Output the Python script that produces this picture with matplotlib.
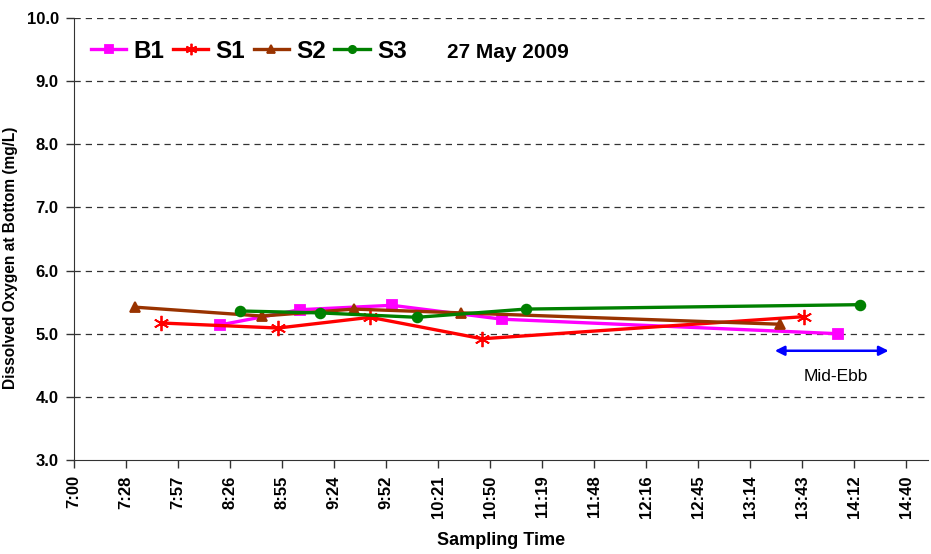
import numpy as np
import matplotlib.pyplot as plt
import matplotlib as mpl

#==========================================================
# DATA (sampling times as h:mm, DO in mg/L)
#==========================================================
b1_time = ["8:21", "9:05", "9:56", "10:57", "14:03"]
b1_do = [5.14, 5.38, 5.45, 5.23, 5.00]

s1_time = ["7:48", "8:53", "9:44", "10:46", "13:44"]
s1_do = [5.17, 5.09, 5.26, 4.92, 5.27]

s2_time = ["7:34", "8:44", "9:35", "10:34", "13:31"]
s2_do = [5.42, 5.28, 5.39, 5.33, 5.15]

s3_time = ["8:32", "9:16", "10:10", "11:10", "14:15"]
s3_do = [5.36, 5.33, 5.26, 5.39, 5.46]

tick_labels = ["7:00", "7:28", "7:57", "8:26", "8:55", "9:24", "9:52", "10:21",
               "10:50", "11:19", "11:48", "12:16", "12:45", "13:14", "13:43",
               "14:12", "14:40"]
tick_step = 28.8          # minutes (0.02 day)
x_start = 7 * 60
x_end = 7 * 60 + 472.8

ebb_start, ebb_end = "13:28", "14:31"
ebb_level = 4.73
ebb_text_x, ebb_text_y = "14:02", 4.33


def to_min(t):
  h, m = t.split(":")
  return int(h) * 60 + int(m)


#==========================================================
# PLOT
#==========================================================
mpl.rcParams['font.family'] = ['Liberation Sans', 'DejaVu Sans']
mpl.rcParams['font.weight'] = 'bold'

fig = plt.figure(figsize=(9.31, 5.54), dpi=100)
ax = fig.add_axes([74/931, 94/554, (928-74)/931, (460-18)/554])

series = [("B1", b1_time, b1_do, '#FF00FF', 's', 7),
          ("S1", s1_time, s1_do, '#FF0000', (6, 2, 0), 11),
          ("S2", s2_time, s2_do, '#993300', '^', 7),
          ("S3", s3_time, s3_do, '#008000', 'o', 7)]

for name, tt, vals, col, mk, ms in series:
  ax.plot([to_min(t) for t in tt], vals, '-', color=col, marker=mk, ms=ms,
          mec=col, mfc=col, mew=1.3, lw=2.4, label=name)

# grid
for yv in range(4, 11):
  ax.axhline(yv, color='#333333', ls=(0, (5, 4)), lw=0.9, zorder=0)

ax.set_xlim(x_start, x_end)
ax.set_ylim(3.0, 10.0)
ticks = [x_start + i * tick_step for i in range(len(tick_labels))]
ax.set_xticks(ticks)
ax.set_xticklabels(tick_labels, rotation=90, fontsize=12, fontweight='bold')
ax.set_yticks(np.arange(3, 10.5, 1.0))
ax.set_yticklabels(["%.1f" % v for v in np.arange(3, 10.5, 1.0)], fontsize=12, fontweight='bold')
ax.tick_params(direction='out', length=6, width=1, color='#333333', pad=5)

for s in ['top', 'right']:
  ax.spines[s].set_visible(False)
for s in ['left', 'bottom']:
  ax.spines[s].set_color('#333333')

ax.set_xlabel("Sampling Time", fontsize=13, fontweight='bold', labelpad=10)
ax.set_ylabel("Dissolved Oxygen at Bottom (mg/L)", fontsize=11.2, fontweight='bold')
ax.yaxis.set_label_coords(-0.0656, 0.458)

# legend
leg = ax.legend(loc='center left', bbox_to_anchor=(0.0, 0.925), ncol=4, frameon=False,
                fontsize=17.5, handlelength=1.45, handletextpad=0.3, columnspacing=0.35,
                markerscale=0.75, borderpad=0.2)
for t in leg.get_texts():
  t.set_fontweight('bold')

fig.text(447/931, 1 - 53/554, "27 May 2009", fontsize=15,
         fontweight='bold', va='center', ha='left')

# mid-ebb arrow
ax.annotate("", xy=(to_min(ebb_end), ebb_level), xytext=(to_min(ebb_start), ebb_level),
            arrowprops=dict(arrowstyle='<|-|>', color='#0000FF', lw=1.8,
                            mutation_scale=14, shrinkA=0, shrinkB=0))
ax.text(to_min(ebb_text_x), ebb_text_y, "Mid-Ebb", ha='center', va='center',
        fontsize=12.5, fontweight='normal')

fig.savefig("out.png", dpi=100)
